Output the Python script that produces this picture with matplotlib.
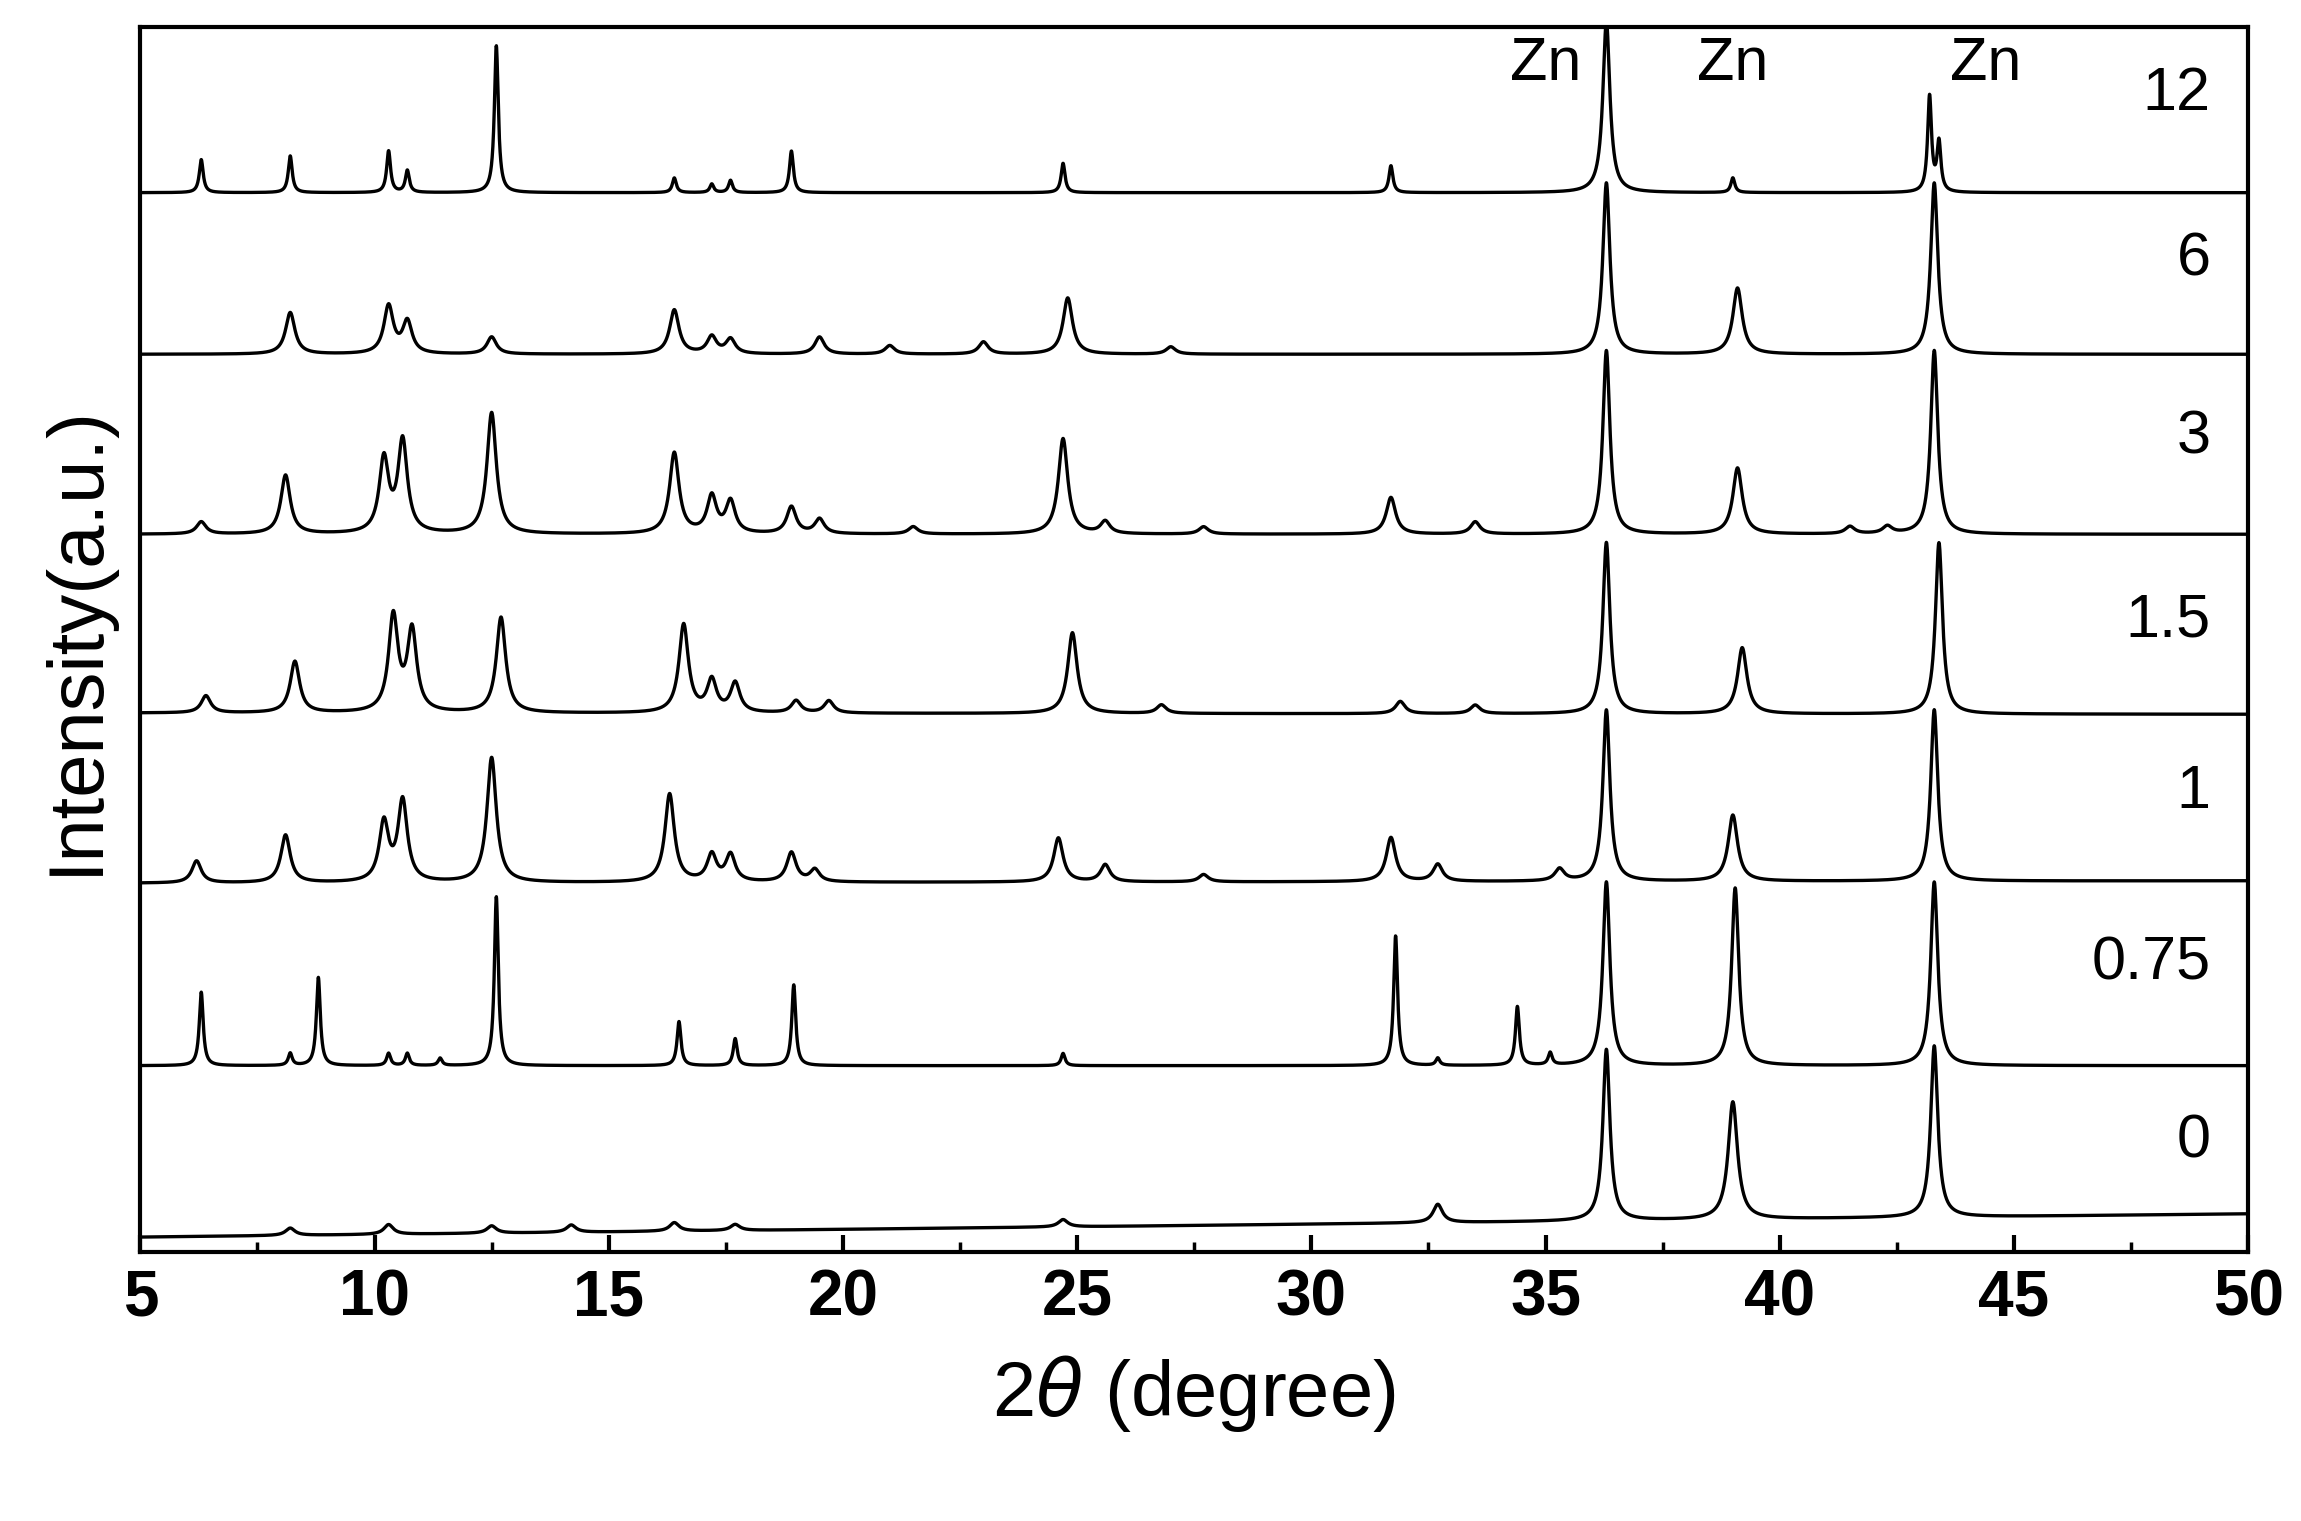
import numpy as np
import matplotlib
matplotlib.use("Agg")
import matplotlib.pyplot as plt

plt.rcParams['font.family'] = ['Liberation Sans', 'DejaVu Sans']
plt.rcParams['mathtext.fontset'] = 'dejavusans'

labels = ["0", "0.75", "1", "1.5", "3", "6", "12"]
base_left = [1.2, 15.2, 30.1, 44.0, 58.6, 73.3, 86.5]
base_right = [3.1, 15.2, 30.3, 43.9, 58.6, 73.3, 86.5]
peak_width = [0.12, 0.05, 0.12, 0.12, 0.12, 0.12, 0.05]
pos = [
    [8.2, 10.3, 12.5, 14.2, 16.4, 17.7, 24.7, 32.7, 36.3, 39.0, 43.3],
    [6.3, 8.2, 8.8, 10.3, 10.7, 11.4, 12.6, 16.5, 17.7, 18.95, 24.7, 31.8, 32.7, 34.4, 35.1, 36.3, 39.05, 43.3],
    [6.2, 8.1, 10.2, 10.6, 12.5, 16.3, 17.2, 17.6, 18.9, 19.4, 24.6, 25.6, 27.7, 31.7, 32.7, 35.3, 36.3, 39.0, 43.3],
    [6.4, 8.3, 10.4, 10.8, 12.7, 16.6, 17.2, 17.7, 19.0, 19.7, 24.9, 26.8, 31.9, 33.5, 36.3, 39.2, 43.4],
    [6.3, 8.1, 10.2, 10.6, 12.5, 16.4, 17.2, 17.6, 18.9, 19.5, 21.5, 24.7, 25.6, 27.7, 31.7, 33.5, 36.3, 39.1, 41.5, 42.3, 43.3],
    [8.2, 10.3, 10.7, 12.5, 16.4, 17.2, 17.6, 19.5, 21.0, 23.0, 24.8, 27.0, 36.3, 39.1, 43.3],
    [6.3, 8.2, 10.3, 10.7, 12.6, 16.4, 17.2, 17.6, 18.9, 24.7, 31.7, 36.3, 39.0, 43.2, 43.4],
]
hts = [
    [0.6, 0.8, 0.6, 0.6, 0.7, 0.5, 0.6, 1.5, 14, 9.6, 14],
    [6.0, 1.0, 7.2, 1.0, 1.0, 0.6, 13.8, 3.6, 2.2, 6.6, 1.0, 10.6, 0.6, 4.8, 1.0, 15, 14.5, 15],
    [1.8, 3.9, 4.8, 6.6, 10.2, 7.2, 2.2, 2.2, 2.4, 1.0, 3.6, 1.4, 0.6, 3.6, 1.4, 1.0, 14, 5.4, 14],
    [1.4, 4.2, 7.8, 6.6, 7.8, 7.2, 2.6, 2.4, 1.0, 1.0, 6.6, 0.7, 1.0, 0.7, 14, 5.4, 14],
    [1.0, 4.8, 6.0, 7.5, 9.9, 6.6, 3.0, 2.6, 2.2, 1.2, 0.6, 7.8, 1.0, 0.6, 3.0, 1.0, 15, 5.4, 0.6, 0.6, 15],
    [3.4, 3.9, 2.6, 1.4, 3.6, 1.4, 1.2, 1.4, 0.7, 1.0, 4.6, 0.6, 14, 5.4, 14],
    [2.7, 3.0, 3.4, 1.8, 12.0, 1.2, 0.7, 1.0, 3.4, 2.4, 2.2, 14, 1.2, 7.8, 4.0],
]
label_y = [9.0, 23.5, 37.5, 51.5, 66.5, 81.0, 94.5]
zn_x = [35.0, 39.0, 44.4]

fig = plt.figure(figsize=(23.01, 15.21), dpi=100)
ax = fig.add_axes([0.061, 0.177, 0.916, 0.805])
x = np.linspace(5, 50, 9000)
for i in range(len(labels)):
    y = np.interp(x, [5, 50], [base_left[i], base_right[i]])
    for p, h in zip(pos[i], hts[i]):
        w = 0.09 if h >= 14 else peak_width[i]
        y = y + h / (1 + ((x - p) / w) ** 2)
    ax.plot(x, y, color="black", lw=2.4)
    ax.text(49.2, label_y[i], labels[i], ha="right", va="center", fontsize=44)
for zx in zn_x:
    ax.text(zx, 97.0, "Zn", ha="center", va="center", fontsize=44)

ax.set_xlim(5, 50)
ax.set_ylim(0, 100)
ax.set_xticks(np.arange(5, 51, 5))
ax.set_xticks(np.arange(5, 50, 2.5), minor=True)
ax.set_yticks([])
ax.tick_params(axis="x", which="major", direction="in", length=12, width=3, labelsize=46, pad=12)
ax.tick_params(axis="x", which="minor", direction="in", length=7, width=2.5)
for lab in ax.get_xticklabels():
    lab.set_fontweight("bold")
for s in ax.spines.values():
    s.set_linewidth(3)
ax.set_xlabel(r"2$\it{\theta}$ (degree)", fontsize=56, labelpad=18)
ax.set_ylabel("Intensity(a.u.)", fontsize=56, labelpad=20)
fig.savefig("out.png", dpi=100)
